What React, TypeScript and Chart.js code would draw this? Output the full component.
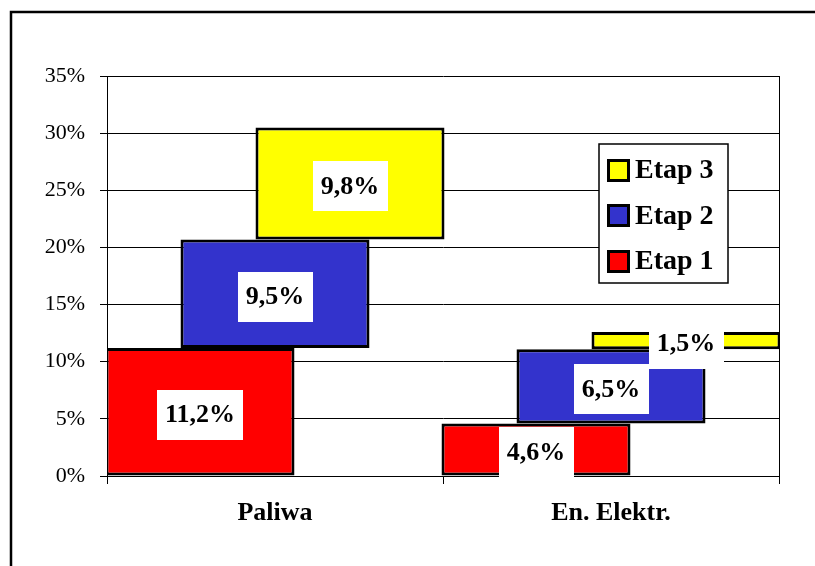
import React, { useEffect, useRef } from 'react';
import { Chart, registerables } from 'chart.js';

Chart.register(...registerables);

// ---- data ----
const categories = ['Paliwa', 'En. Elektr.'];
const stageNames = ['Etap 1', 'Etap 2', 'Etap 3'];
const etap1Values = [11.2, 4.6];
const etap2Values = [9.5, 6.5];
const etap3Values = [9.8, 1.5];
const stageColors = ['#FF0000', '#3333CC', '#FFFF00'];
const yMin = 0;
const yMax = 35;
const yStep = 5;

const stageValues = [etap1Values, etap2Values, etap3Values];

function buildFloating(): number[][][] {
  const bases = categories.map(() => 0);
  return stageValues.map((vals) =>
    vals.map((v, i) => {
      const lo = bases[i];
      bases[i] = lo + v;
      return [lo, lo + v];
    })
  );
}

const FONT = "'Liberation Serif', 'Times New Roman', serif";

const framePlugin = {
  id: 'frame',
  beforeDraw(chart: any) {
    const ctx = chart.ctx;
    ctx.save();
    ctx.fillStyle = '#fff';
    ctx.fillRect(0, 0, chart.width, chart.height);
    ctx.strokeStyle = '#000';
    ctx.lineWidth = 2.5;
    ctx.beginPath();
    ctx.moveTo(11, chart.height + 5);
    ctx.lineTo(11, 12);
    ctx.lineTo(chart.width + 5, 12);
    ctx.stroke();
    ctx.restore();
  },
  beforeDatasetsDraw(chart: any) {
    const { ctx, chartArea } = chart;
    ctx.save();
    ctx.strokeStyle = '#000';
    ctx.lineWidth = 1;
    const x = Math.round(chartArea.right) + 0.5;
    ctx.beginPath();
    ctx.moveTo(x, chartArea.top);
    ctx.lineTo(x, chartArea.bottom);
    ctx.stroke();
    ctx.restore();
  },
};

const labelPlugin = {
  id: 'valueLabels',
  afterDatasetsDraw(chart: any) {
    const ctx = chart.ctx;
    ctx.save();
    ctx.font = `bold 26px ${FONT}`;
    ctx.textAlign = 'center';
    ctx.textBaseline = 'middle';
    chart.data.datasets.forEach((ds: any, di: number) => {
      const meta = chart.getDatasetMeta(di);
      meta.data.forEach((el: any, i: number) => {
        const v = stageValues[di][i];
        const txt = v.toFixed(1).replace('.', ',') + '%';
        const cx = el.x;
        const cy = (el.y + el.base) / 2 + 3;
        const w = ctx.measureText(txt).width + 16;
        const h = 50;
        ctx.fillStyle = '#fff';
        ctx.fillRect(Math.round(cx - w / 2), Math.round(cy - h / 2), Math.round(w), h);
        ctx.fillStyle = '#000';
        ctx.fillText(txt, cx, cy + 1);
      });
    });
    ctx.restore();
  },
};

const legendPlugin = {
  id: 'customLegend',
  afterDraw(chart: any) {
    const ctx = chart.ctx;
    const left = 599;
    const top = 144;
    const width = 129;
    const height = 139;
    ctx.save();
    ctx.fillStyle = '#fff';
    ctx.fillRect(left, top, width, height);
    ctx.strokeStyle = '#000';
    ctx.lineWidth = 1.5;
    ctx.strokeRect(left, top, width, height);
    ctx.font = `bold 28px ${FONT}`;
    ctx.textAlign = 'left';
    ctx.textBaseline = 'middle';
    const order = [2, 1, 0];
    order.forEach((di, row) => {
      const cy = 170 + row * 45.5;
      const sq = 23;
      const sx = 607;
      const sy = Math.round(cy - sq / 2);
      ctx.fillStyle = '#000';
      ctx.fillRect(sx, sy, sq, sq);
      ctx.fillStyle = stageColors[di];
      ctx.fillRect(sx + 3, sy + 3, sq - 6, sq - 6);
      ctx.fillStyle = '#000';
      ctx.fillText(stageNames[di], 635, cy + 1);
    });
    ctx.restore();
  },
};

export default function App() {
  const ref = useRef<HTMLCanvasElement | null>(null);

  useEffect(() => {
    if (!ref.current) return;
    const floating = buildFloating();
    const chart = new Chart(ref.current, {
      type: 'bar',
      data: {
        labels: categories,
        datasets: stageNames.map((name, di) => ({
          label: name,
          data: floating[di] as any,
          backgroundColor: stageColors[di],
          borderColor: '#000',
          borderWidth: 3,
          borderSkipped: false,
          categoryPercentage: 225 / 336,
          barPercentage: 189 / 75,
        })),
      },
      options: {
        responsive: false,
        animation: false,
        events: [],
        layout: { padding: { top: 76, right: 36, left: 0, bottom: 0 } },
        plugins: {
          legend: { display: false },
          tooltip: { enabled: false },
        },
        scales: {
          x: {
            type: 'category',
            offset: true,
            grid: {
              offset: true,
              drawOnChartArea: false,
              color: '#000',
              lineWidth: 1,
              tickLength: 8,
            },
            border: { color: '#000', width: 1 },
            ticks: {
              color: '#000',
              font: { family: FONT, size: 26, weight: 'bold' },
              padding: 14,
              maxRotation: 0,
              autoSkip: false,
            },
            afterFit: (s: any) => {
              s.height = 90;
            },
          },
          y: {
            min: yMin,
            max: yMax,
            ticks: {
              stepSize: yStep,
              color: '#000',
              font: { family: FONT, size: 22 },
              padding: 15,
              callback: (v: any) => `${v}%`,
            },
            grid: { color: '#000', lineWidth: 1, tickLength: 7 },
            border: { color: '#000', width: 1 },
            afterFit: (s: any) => {
              s.width = 107;
            },
          },
        },
      } as any,
      plugins: [framePlugin, labelPlugin, legendPlugin],
    });
    return () => chart.destroy();
  }, []);

  return (
    <div style={{ position: 'fixed', left: 0, top: 0, width: 815, height: 566, background: '#fff' }}>
      <canvas ref={ref} width={815} height={566} style={{ display: 'block' }} />
    </div>
  );
}
